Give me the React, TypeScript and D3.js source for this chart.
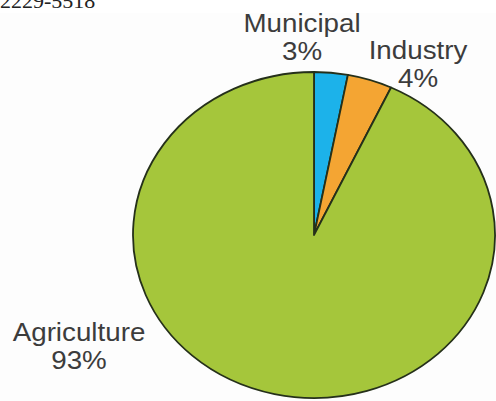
import React from "react";
import * as d3 from "d3";

const categories = ["Municipal", "Industry", "Agriculture"];
const values = [3, 4, 93];
const labels = ["3%", "4%", "93%"];
const colors = ["#1cb2ea", "#f4a533", "#a5c63b"];

const W = 496;
const H = 401;
const cx = 314;
const cy = 235;
const rx = 181;
const ry = 163;
const sx = rx / ry;

const labelPos = [
  { x: 302, y: 32 },
  { x: 418, y: 59 },
  { x: 79, y: 341 },
];

export default function App() {
  const pie = d3
    .pie<number>()
    .sort(null)
    .value((d) => d)
    .startAngle(0)
    .endAngle(2 * Math.PI);
  const arcs = pie(values);
  const arc = d3.arc<d3.PieArcDatum<number>>().innerRadius(0).outerRadius(ry);

  return (
    <svg
      width={W}
      height={H}
      style={{ position: "absolute", left: 0, top: 0, background: "#fff" }}
    >
      <g transform={`translate(0,8) scale(1.1,1)`}>
        <text
          x={0}
          y={0}
          fontFamily="Liberation Serif, Times New Roman, serif"
          fontSize={20}
          fill="#222"
        >
          2229-5518
        </text>
      </g>
      <rect x={0} y={13} width={W} height={H - 13} fill="#fdfdfd" />
      <g transform={`translate(${cx},${cy}) scale(${sx},1)`}>
        {arcs.map((a, i) => (
          <path
            key={categories[i]}
            d={arc(a) || ""}
            fill={colors[i]}
            stroke="#25301a"
            strokeWidth={1.8}
            strokeLinejoin="round"
            vectorEffect="non-scaling-stroke"
          />
        ))}
      </g>
      {categories.map((c, i) => (
        <g
          key={c}
          transform={`translate(${labelPos[i].x},${labelPos[i].y}) scale(1.11,1)`}
          fontFamily="Liberation Sans, Arial, sans-serif"
          fontSize={25}
          fill="#3c3c3c"
          textAnchor="middle"
        >
          <text x={0} y={0}>
            {c}
          </text>
          <text x={0} y={28}>
            {labels[i]}
          </text>
        </g>
      ))}
    </svg>
  );
}
